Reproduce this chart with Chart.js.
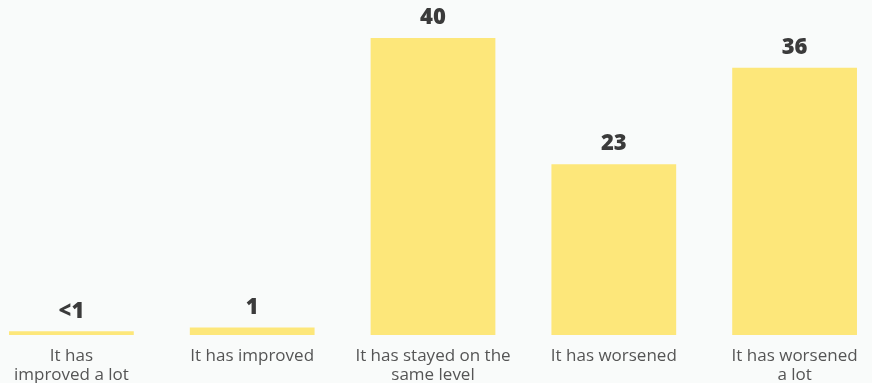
<!DOCTYPE html>
<html>
<head>
<meta charset="utf-8">
<script src="https://cdn.jsdelivr.net/npm/chart.js@4/dist/chart.umd.min.js"></script>
<style>
  html, body { margin: 0; padding: 0; background: #f9fbfa; overflow: hidden; }
  #wrap { position: absolute; left: -19px; top: 0; width: 904px; height: 383px; }
</style>
</head>
<body>
<div id="wrap"><canvas id="grafico"></canvas></div>
<script>
// categorias (quebradas em linhas como no eixo)
const categorias = [
  ["It has", "improved a lot"],
  "It has improved",
  ["It has stayed on the", "same level"],
  "It has worsened",
  ["It has worsened", "a lot"]
];
const valores = [0.5, 1, 40, 23, 36];
const rotulos = ["<1", "1", "40", "23", "36"];

const corBarra = "#fde77a";
const corRotulo = "#3b3b3b";

// escreve o valor em cima de cada barra
const rotulosPlugin = {
  id: "rotulos",
  afterDatasetsDraw(chart) {
    const ctx = chart.ctx;
    const meta = chart.getDatasetMeta(0);
    ctx.save();
    ctx.font = "800 22px 'Open Sans'";
    ctx.fillStyle = corRotulo;
    ctx.textAlign = "center";
    ctx.textBaseline = "middle";
    meta.data.forEach((bar, i) => {
      ctx.fillText(rotulos[i], bar.x, bar.y - 20);
    });
    ctx.restore();
  }
};

new Chart(document.getElementById("grafico"), {
  type: "bar",
  data: {
    labels: categorias,
    datasets: [{
      data: valores,
      backgroundColor: corBarra,
      borderWidth: 0,
      barPercentage: 0.69,
      categoryPercentage: 1
    }]
  },
  options: {
    responsive: true,
    maintainAspectRatio: false,
    animation: false,
    layout: { padding: { top: 38, left: 0, right: 0, bottom: 0 } },
    plugins: { legend: { display: false }, tooltip: { enabled: false } },
    scales: {
      x: {
        grid: { display: false, drawTicks: false },
        border: { display: false },
        ticks: {
          color: "#555555",
          font: { family: "'Open Sans'", size: 17, lineHeight: 1.12 },
          padding: 12,
          maxRotation: 0,
          autoSkip: false
        },
        afterFit(scale) { scale.height = 48; }
      },
      y: {
        display: false,
        min: 0,
        max: 40
      }
    }
  },
  plugins: [rotulosPlugin]
});
</script>
</body>
</html>
